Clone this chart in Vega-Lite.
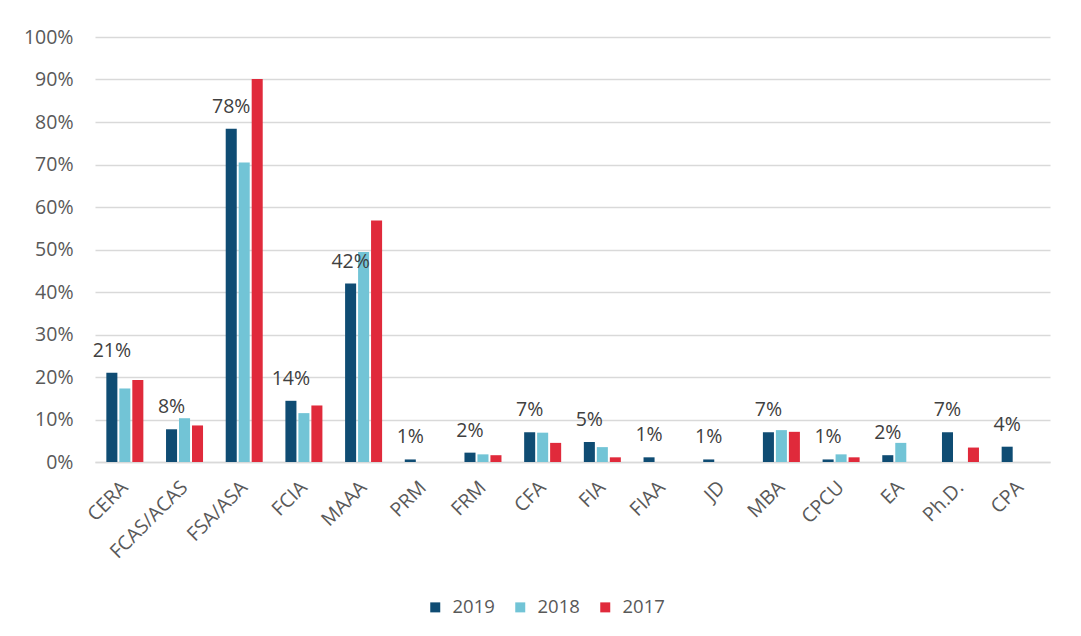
{
  "$schema": "https://vega.github.io/schema/vega-lite/v6.json",
  "width": 955,
  "height": 425,
  "autosize": {"type": "none"},
  "padding": {"left": 95, "top": 37, "right": 31, "bottom": 174},
  "background": "white",
  "config": {
    "view": {"stroke": null},
    "font": "Open Sans",
    "axis": {"labelFont": "Open Sans", "labelColor": "#595959", "labelFontSize": 19.5},
    "legend": {"labelFont": "Open Sans", "labelColor": "#595959", "labelFontSize": 18.5}
  },
  "data": {
    "values": [
      {"cert": "CERA", "year": "2019", "pct": 0.21},
      {"cert": "CERA", "year": "2018", "pct": 0.173},
      {"cert": "CERA", "year": "2017", "pct": 0.193},
      {"cert": "FCAS/ACAS", "year": "2019", "pct": 0.077},
      {"cert": "FCAS/ACAS", "year": "2018", "pct": 0.103},
      {"cert": "FCAS/ACAS", "year": "2017", "pct": 0.086},
      {"cert": "FSA/ASA", "year": "2019", "pct": 0.784},
      {"cert": "FSA/ASA", "year": "2018", "pct": 0.705},
      {"cert": "FSA/ASA", "year": "2017", "pct": 0.901},
      {"cert": "FCIA", "year": "2019", "pct": 0.144},
      {"cert": "FCIA", "year": "2018", "pct": 0.115},
      {"cert": "FCIA", "year": "2017", "pct": 0.133},
      {"cert": "MAAA", "year": "2019", "pct": 0.42},
      {"cert": "MAAA", "year": "2018", "pct": 0.494},
      {"cert": "MAAA", "year": "2017", "pct": 0.568},
      {"cert": "PRM", "year": "2019", "pct": 0.006},
      {"cert": "PRM", "year": "2018", "pct": 0},
      {"cert": "PRM", "year": "2017", "pct": 0},
      {"cert": "FRM", "year": "2019", "pct": 0.022},
      {"cert": "FRM", "year": "2018", "pct": 0.018},
      {"cert": "FRM", "year": "2017", "pct": 0.016},
      {"cert": "CFA", "year": "2019", "pct": 0.07},
      {"cert": "CFA", "year": "2018", "pct": 0.069},
      {"cert": "CFA", "year": "2017", "pct": 0.045},
      {"cert": "FIA", "year": "2019", "pct": 0.047},
      {"cert": "FIA", "year": "2018", "pct": 0.035},
      {"cert": "FIA", "year": "2017", "pct": 0.011},
      {"cert": "FIAA", "year": "2019", "pct": 0.011},
      {"cert": "FIAA", "year": "2018", "pct": 0},
      {"cert": "FIAA", "year": "2017", "pct": 0},
      {"cert": "JD", "year": "2019", "pct": 0.006},
      {"cert": "JD", "year": "2018", "pct": 0},
      {"cert": "JD", "year": "2017", "pct": 0},
      {"cert": "MBA", "year": "2019", "pct": 0.07},
      {"cert": "MBA", "year": "2018", "pct": 0.075},
      {"cert": "MBA", "year": "2017", "pct": 0.071},
      {"cert": "CPCU", "year": "2019", "pct": 0.006},
      {"cert": "CPCU", "year": "2018", "pct": 0.018},
      {"cert": "CPCU", "year": "2017", "pct": 0.011},
      {"cert": "EA", "year": "2019", "pct": 0.016},
      {"cert": "EA", "year": "2018", "pct": 0.045},
      {"cert": "EA", "year": "2017", "pct": 0},
      {"cert": "Ph.D.", "year": "2019", "pct": 0.07},
      {"cert": "Ph.D.", "year": "2018", "pct": 0},
      {"cert": "Ph.D.", "year": "2017", "pct": 0.034},
      {"cert": "CPA", "year": "2019", "pct": 0.036},
      {"cert": "CPA", "year": "2018", "pct": 0},
      {"cert": "CPA", "year": "2017", "pct": 0}
    ]
  },
  "encoding": {
    "x": {
      "field": "cert",
      "type": "nominal",
      "sort": null,
      "scale": {"paddingInner": 0.38, "paddingOuter": 0.19},
      "axis": {
        "title": null,
        "labelAngle": -45,
        "labelAlign": "right",
        "labelBaseline": "middle",
        "ticks": false,
        "domain": true,
        "domainColor": "#d9d9d9",
        "domainWidth": 1.5,
        "labelPadding": 22,
        "grid": false
      }
    },
    "xOffset": {
      "field": "year",
      "type": "nominal",
      "scale": {"domain": ["2019", "2018", "2017"], "paddingInner": 0.15, "paddingOuter": 0}
    },
    "y": {
      "field": "pct",
      "type": "quantitative",
      "scale": {"domain": [0, 1], "nice": false},
      "axis": {
        "title": null,
        "format": ".0%",
        "values": [0, 0.1, 0.2, 0.3, 0.4, 0.5, 0.6, 0.7, 0.8, 0.9, 1],
        "domain": false,
        "ticks": false,
        "labelPadding": 22,
        "grid": true,
        "gridColor": "#d9d9d9",
        "gridWidth": 1.5
      }
    }
  },
  "layer": [
    {
      "mark": {"type": "bar"},
      "encoding": {
        "color": {
          "field": "year",
          "type": "nominal",
          "scale": {"domain": ["2019", "2018", "2017"], "range": ["#0f4c73", "#72c4d6", "#e02a3b"]},
          "legend": {
            "title": null,
            "orient": "none",
            "direction": "horizontal",
            "legendX": 331,
            "legendY": 561,
            "symbolType": "square",
            "symbolSize": 100,
            "symbolStrokeWidth": 0,
            "labelOffset": 8,
            "columnPadding": 16
          }
        }
      }
    },
    {
      "transform": [{"filter": "datum.year === '2019'"}],
      "mark": {"type": "text", "baseline": "alphabetic", "dy": -16, "color": "#404040", "fontSize": 19.5},
      "encoding": {
        "text": {"field": "pct", "type": "quantitative", "format": ".0%"}
      }
    }
  ]
}
